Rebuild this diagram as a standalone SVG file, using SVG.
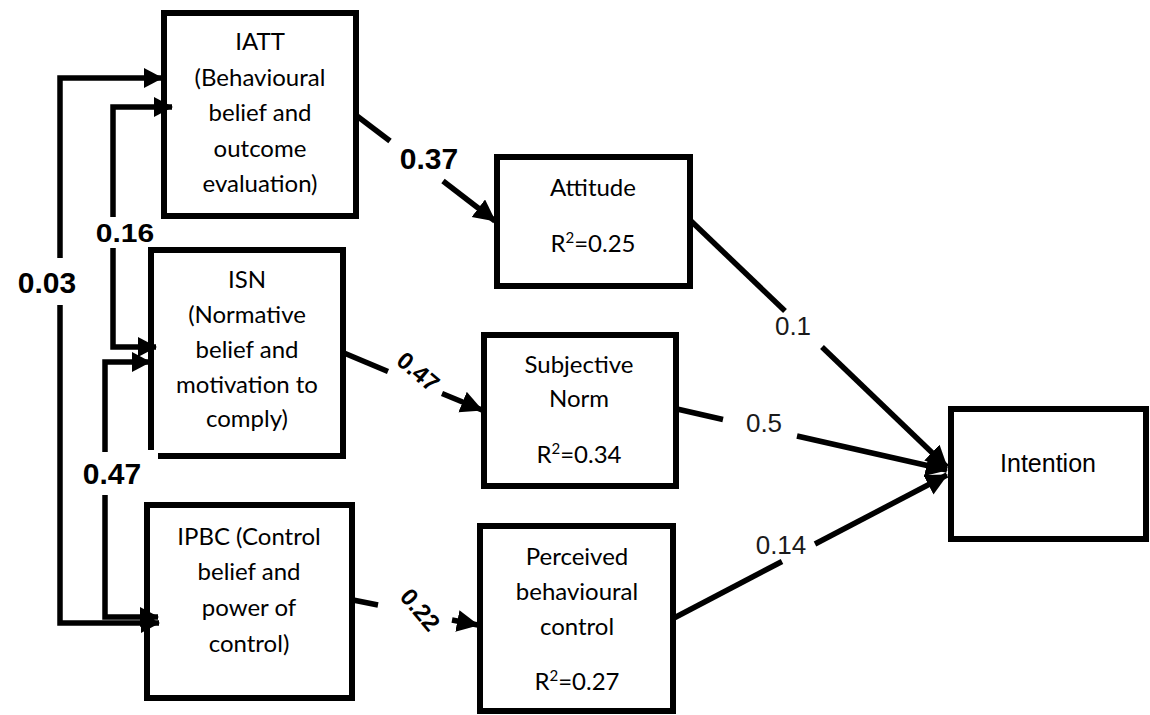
<svg xmlns="http://www.w3.org/2000/svg" width="1150" height="715" viewBox="0 0 1150 715">
<defs>
<marker id="ah" markerUnits="userSpaceOnUse" markerWidth="22" markerHeight="22" refX="18" refY="10" orient="auto-start-reverse" viewBox="0 0 22 22">
<path d="M0,0 L19,10 L0,20 z" fill="#000"/>
</marker>
<marker id="ahd" markerUnits="userSpaceOnUse" markerWidth="26" markerHeight="26" refX="21" refY="11" orient="auto" viewBox="0 0 26 26">
<path d="M0,0 L22,11 L0,22 z" fill="#000"/>
</marker>
<style>
.box{fill:#fff;stroke:#000;stroke-width:6}
.t{font-family:Lato,"Liberation Sans",sans-serif;font-size:24px;fill:#000;text-anchor:middle}
.c{fill:none;stroke:#000;stroke-width:5.5}
.lb{font-family:"Liberation Sans",Arial,sans-serif;font-weight:bold;font-size:30px;fill:#000;text-anchor:middle}
.lr{font-family:"Liberation Sans",Arial,sans-serif;font-weight:bold;font-size:24px;fill:#000;text-anchor:middle}
.ln{font-family:"Liberation Sans",Arial,sans-serif;font-size:26px;fill:#1a1a1a;text-anchor:middle}
</style>
</defs>
<rect width="1150" height="715" fill="#fff"/>

<g id="IATT">
<rect class="box" x="164" y="13" width="192" height="203"/>
<text class="t" x="260" y="50">IATT</text>
<text class="t" x="260" y="86">(Behavioural</text>
<text class="t" x="260" y="121">belief and</text>
<text class="t" x="260" y="157">outcome</text>
<text class="t" x="260" y="192">evaluation)</text>
</g>

<g id="ISN">
<path d="M158 456 H343 V250 H151 V450" fill="#fff" stroke="#000" stroke-width="6"/>
<text class="t" x="247" y="288">ISN</text>
<text class="t" x="247" y="323">(Normative</text>
<text class="t" x="247" y="358">belief and</text>
<text class="t" x="247" y="393">motivation to</text>
<text class="t" x="247" y="427">comply)</text>
</g>

<g id="IPBC">
<rect class="box" x="147" y="505" width="205" height="193"/>
<text class="t" x="249" y="545">IPBC (Control</text>
<text class="t" x="249" y="580">belief and</text>
<text class="t" x="249" y="616">power of</text>
<text class="t" x="249" y="652">control)</text>
</g>

<g id="Attitude">
<rect class="box" x="497" y="157" width="193" height="129"/>
<text class="t" x="593" y="196">Attitude</text>
<text class="t" x="593" y="252">R<tspan dy="-9" font-size="15">2</tspan><tspan dy="9">=0.25</tspan></text>
</g>

<g id="SubjectiveNorm">
<rect class="box" x="484" y="335" width="192" height="151"/>
<text class="t" x="579" y="373">Subjective</text>
<text class="t" x="579" y="407">Norm</text>
<text class="t" x="579" y="463">R<tspan dy="-9" font-size="15">2</tspan><tspan dy="9">=0.34</tspan></text>
</g>

<g id="PBC">
<rect class="box" x="480" y="526" width="193" height="185"/>
<text class="t" x="577" y="565">Perceived</text>
<text class="t" x="577" y="600">behavioural</text>
<text class="t" x="577" y="635">control</text>
<text class="t" x="577" y="690">R<tspan dy="-9" font-size="15">2</tspan><tspan dy="9">=0.27</tspan></text>
</g>

<g id="Intention">
<rect class="box" x="951" y="409" width="195" height="130"/>
<text x="1048" y="472" font-family="'Liberation Sans',Arial,sans-serif" font-size="25" text-anchor="middle" fill="#000">Intention</text>
</g>

<g id="connectors">
<!-- 0.03 IATT <-> IPBC -->
<path class="c" d="M162 78 H60 V258" marker-start="url(#ah)"/>
<path class="c" d="M60 305 V623 H159" marker-end="url(#ah)"/>
<text class="lb" x="47" y="293">0.03</text>
<!-- 0.16 IATT <-> ISN -->
<path class="c" d="M172 107 H113 V217" marker-start="url(#ah)"/>
<path class="c" d="M113 248 V347 H156" marker-end="url(#ah)"/>
<text class="lb" x="125" y="242" transform="translate(0 36) scale(1 0.85)">0.16</text>
<!-- 0.47 ISN <-> IPBC -->
<path class="c" d="M150 362 H105 V452" marker-start="url(#ah)"/>
<path class="c" d="M105 495 V617 H158" marker-end="url(#ah)"/>
<text class="lb" x="112" y="484">0.47</text>
<!-- IATT -> Attitude -->
<path class="c" d="M357 116 L390 141"/>
<path class="c" d="M443 181 L495 221" marker-end="url(#ahd)"/>
<text class="lb" x="429" y="169">0.37</text>
<!-- ISN -> SN -->
<path class="c" d="M344 353 L388 371.5"/>
<path class="c" d="M442 393.5 L482 410" marker-end="url(#ahd)"/>
<text class="lr" x="418" y="380" transform="rotate(40 418 372)">0.47</text>
<!-- IPBC -> PBC -->
<path class="c" d="M353 600 L378 605"/>
<path class="c" d="M452 620 L478 625" marker-end="url(#ahd)"/>
<text class="lr" x="420" y="618" transform="rotate(50 420 610)">0.22</text>
<!-- Attitude -> Intention -->
<path class="c" d="M691 221 L785 311"/>
<path class="c" d="M822 347 L947 467" marker-end="url(#ahd)"/>
<text class="ln" x="793" y="335">0.1</text>
<!-- SN -> Intention -->
<path class="c" d="M677 409 L723 419.5"/>
<path class="c" d="M797 436 L947 470" marker-end="url(#ahd)"/>
<text class="ln" x="764" y="432">0.5</text>
<!-- PBC -> Intention -->
<path class="c" d="M674 618 L782 561.5"/>
<path class="c" d="M815 544 L947 475" marker-end="url(#ahd)"/>
<text class="ln" x="781" y="554">0.14</text>
</g>
</svg>
